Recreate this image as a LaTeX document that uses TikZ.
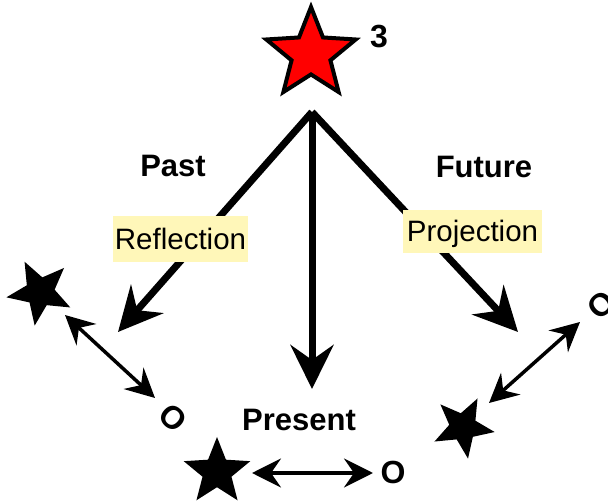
\documentclass[tikz,border=0pt]{standalone}
\usepackage{fontspec}
\setmainfont{Liberation Sans}
\usetikzlibrary{arrows.meta,shapes.geometric}
\definecolor{hlyellow}{RGB}{255,247,185}
\begin{document}
\begin{tikzpicture}[x=1pt,y=-1pt,
  bigarrow/.style={line width=7pt,-{Stealth[length=44pt,width=43pt,inset=15pt]}},
  dblarrow/.style={line width=3.5pt,{Stealth[length=29pt,width=29pt,inset=10pt]}-{Stealth[length=29pt,width=29pt,inset=10pt]}},
  blackstar/.style={star,star points=5,star point ratio=2.3,fill=black,inner sep=0pt},
  wordlabel/.style={font=\fontsize{31}{36}\selectfont\bfseries,inner sep=0pt,anchor=base},
  oletter/.style={font=\fontsize{32}{36}\selectfont\bfseries,inner sep=0pt},
  hlbox/.style={fill=hlyellow,inner sep=0pt,font=\fontsize{29.5}{34}\selectfont,text height=21pt,text depth=0pt}]
\useasboundingbox (0,0) rectangle (608,502);

% top red star
\node[star,star points=5,star point ratio=2.3,fill=red,draw=black,line width=4pt,inner sep=0pt,minimum size=94pt] (redstar) at (311,54) {};
\node[oletter,anchor=base] (three) at (379,48) {3};

% main arrows
\coordinate (apex) at (312,112);
\coordinate (pastend) at (118,332);
\coordinate (presend) at (312,389);
\coordinate (futend) at (518,332);
\draw[bigarrow] (apex) -- (pastend);
\draw[bigarrow] (apex) -- (presend);
\draw[bigarrow] (apex) -- (futend);

% labels
\node[wordlabel] (past) at (173,177) {Past};
\node[wordlabel] (future) at (484,178) {Future};
\node[wordlabel] (present) at (299,431) {Present};

\node[hlbox,minimum width=135pt,minimum height=46pt] (refl) at (180.5,239) {Reflection};
\node[hlbox,minimum width=139pt,minimum height=43pt] (proj) at (472.5,231.5) {Projection};

% stars
\node[blackstar,minimum size=68pt,rotate=27] (lstar) at (40,292) {};
\node[blackstar,minimum size=64pt,rotate=-27] (rstar) at (463,427) {};
\node[blackstar,minimum size=70pt] (bstar) at (217,472) {};

% O letters
\node[oletter,rotate=-43] (lo) at (173,418) {O};
\node[oletter,rotate=42] (ro) at (601,305) {O};
\node[oletter,anchor=base] (bo) at (393,483) {O};

% double arrows
\coordinate (l1) at (65,315);
\coordinate (l2) at (155,398);
\coordinate (r1) at (489,403);
\coordinate (r2) at (580,322);
\coordinate (b1) at (252,473);
\coordinate (b2) at (373,473);
\draw[dblarrow] (l1) -- (l2);
\draw[dblarrow] (r1) -- (r2);
\draw[dblarrow] (b1) -- (b2);
\end{tikzpicture}
\end{document}
